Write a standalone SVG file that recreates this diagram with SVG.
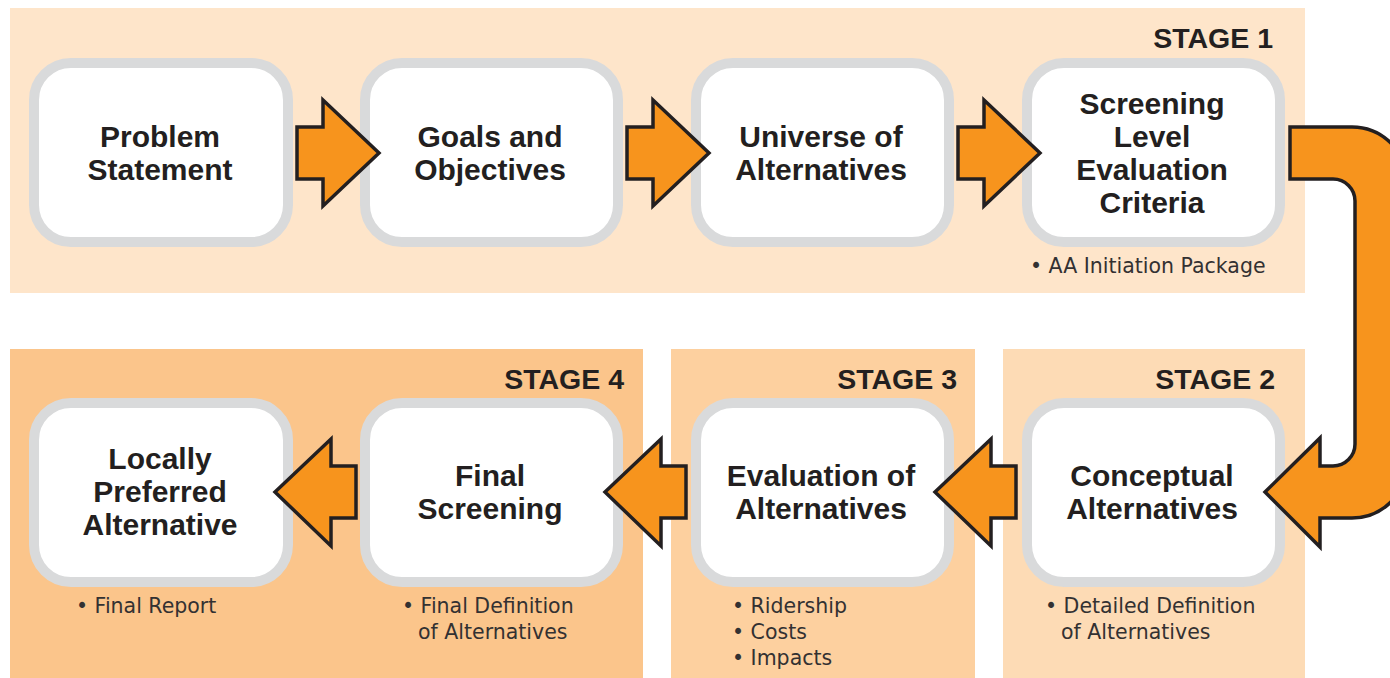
<svg xmlns="http://www.w3.org/2000/svg" width="1390" height="678" viewBox="0 0 1390 678">
<style>
.box{fill:#FFFFFF;stroke:#D9DADB;stroke-width:10}
.title{font-family:"Liberation Sans",Arial,sans-serif;font-weight:bold;font-size:30px;fill:#231F20;text-anchor:middle}
.stage{font-family:"Liberation Sans",Arial,sans-serif;font-weight:bold;font-size:28.5px;fill:#231F20;text-anchor:end}
.note{font-family:"DejaVu Sans",sans-serif;font-size:20.5px;fill:#333132}
.arrow{fill:#F7941D;stroke:#231F20;stroke-width:3.5;stroke-linejoin:miter}
</style>
<rect width="1390" height="678" fill="#FFFFFF"/>
<g id="stages">
<rect id="stage1-bg" x="10" y="8" width="1295" height="285" fill="#FEE5CA"/>
<rect id="stage2-bg" x="1003" y="349" width="302" height="329" fill="#FDDBB5"/>
<rect id="stage3-bg" x="671" y="349" width="304" height="329" fill="#FDD09F"/>
<rect id="stage4-bg" x="10" y="349" width="633" height="329" fill="#FBC58B"/>
<text class="stage" x="1273" y="48">STAGE 1</text>
<text class="stage" x="1275" y="389">STAGE 2</text>
<text class="stage" x="957" y="389">STAGE 3</text>
<text class="stage" x="624" y="389">STAGE 4</text>
</g>
<g id="n1"><rect class="box" x="34" y="63" width="254" height="179" rx="37"/>
<text class="title"><tspan x="160" y="147">Problem</tspan><tspan x="160" y="180">Statement</tspan></text></g>
<g id="n2"><rect class="box" x="365" y="63" width="253" height="179" rx="37"/>
<text class="title"><tspan x="490" y="147">Goals and</tspan><tspan x="490" y="180">Objectives</tspan></text></g>
<g id="n3"><rect class="box" x="696" y="63" width="253" height="179" rx="37"/>
<text class="title"><tspan x="821" y="147">Universe of</tspan><tspan x="821" y="180">Alternatives</tspan></text></g>
<g id="n4"><rect class="box" x="1027" y="63" width="253" height="179" rx="37"/>
<text class="title"><tspan x="1152" y="114">Screening</tspan><tspan x="1152" y="147">Level</tspan><tspan x="1152" y="180">Evaluation</tspan><tspan x="1152" y="213">Criteria</tspan></text>
<text class="note" x="1030" y="273">• AA Initiation Package</text></g>
<g id="n5"><rect class="box" x="1027" y="403" width="253" height="179" rx="37"/>
<text class="title"><tspan x="1152" y="486">Conceptual</tspan><tspan x="1152" y="519">Alternatives</tspan></text>
<text class="note" x="1045" y="613">• Detailed Definition</text>
<text class="note" x="1061" y="639">of Alternatives</text></g>
<g id="n6"><rect class="box" x="696" y="403" width="253" height="179" rx="37"/>
<text class="title"><tspan x="821" y="486">Evaluation of</tspan><tspan x="821" y="519">Alternatives</tspan></text>
<text class="note" x="732" y="613">• Ridership</text>
<text class="note" x="732" y="639">• Costs</text>
<text class="note" x="732" y="665">• Impacts</text></g>
<g id="n7"><rect class="box" x="365" y="403" width="253" height="179" rx="37"/>
<text class="title"><tspan x="490" y="486">Final</tspan><tspan x="490" y="519">Screening</tspan></text>
<text class="note" x="402" y="613">• Final Definition</text>
<text class="note" x="418" y="639">of Alternatives</text></g>
<g id="n8"><rect class="box" x="34" y="403" width="254" height="179" rx="37"/>
<text class="title"><tspan x="160" y="469">Locally</tspan><tspan x="160" y="502">Preferred</tspan><tspan x="160" y="535">Alternative</tspan></text>
<text class="note" x="76" y="613">• Final Report</text></g>
<g id="connectors">
<polygon class="arrow" points="297,127 323,127 323,100 379,153 323,206 323,179 297,179"/>
<polygon class="arrow" points="627,127 653,127 653,100 709,153 653,206 653,179 627,179"/>
<polygon class="arrow" points="958,127 984,127 984,100 1040,153 984,206 984,179 958,179"/>
<path class="arrow" d="M1290,127 L1352,127 A55,55 0 0 1 1407,182 L1407,463 A55,55 0 0 1 1352,518 L1320,518 L1320,547 L1265,492 L1320,438 L1320,466 L1333,466 A22,22 0 0 0 1355,444 L1355,201 A22,22 0 0 0 1333,179 L1290,179 Z"/>
<polygon class="arrow" points="935,492 991,439 991,466 1016,466 1016,518 991,518 991,546"/>
<polygon class="arrow" points="605,492 661,439 661,466 686,466 686,518 661,518 661,546"/>
<polygon class="arrow" points="275,492 331,439 331,466 356,466 356,518 331,518 331,546"/>
</g>
</svg>
